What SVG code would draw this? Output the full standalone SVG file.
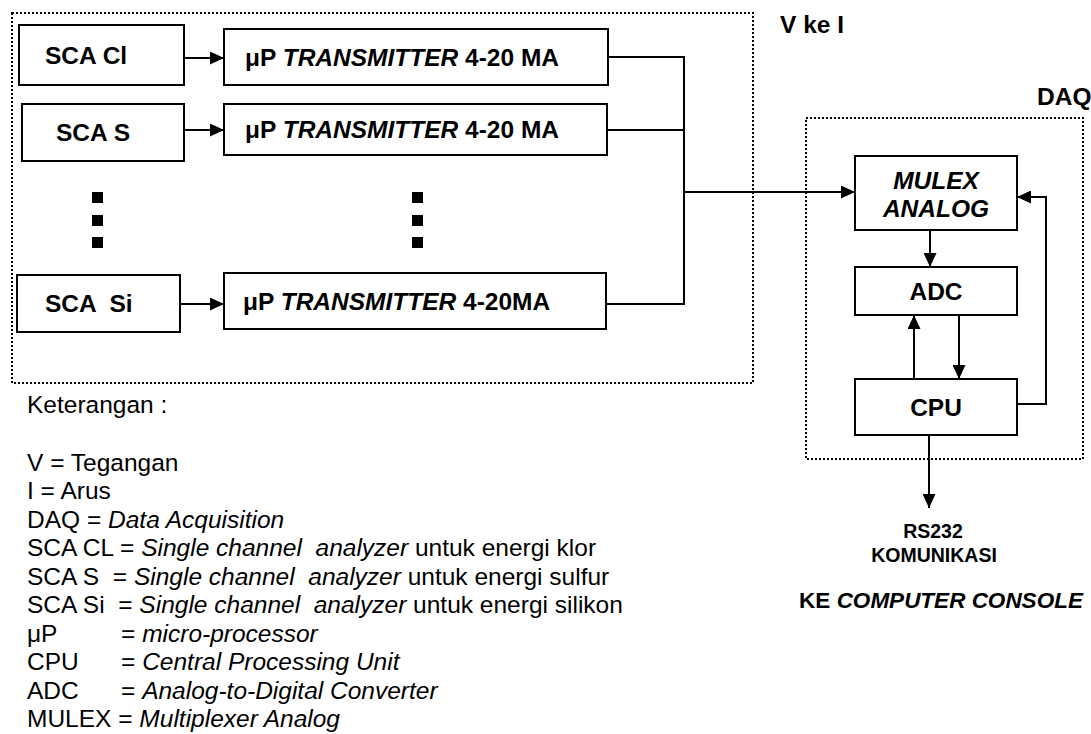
<svg xmlns="http://www.w3.org/2000/svg" width="1091" height="734" viewBox="0 0 1091 734">
<defs>
<style>
.box{fill:#fff;stroke:#000;stroke-width:2}
.dot{fill:none;stroke:#000;stroke-width:2;stroke-dasharray:2 2}
.ln{fill:none;stroke:#000;stroke-width:2}
.t{font-family:"Liberation Sans",Arial,sans-serif;font-size:24.5px;fill:#000}
.b{font-weight:bold}
.i{font-style:italic}
.lg{font-family:"Liberation Sans",Arial,sans-serif;font-size:24.5px;fill:#000;white-space:pre}
.sq{fill:#000}
</style>
<marker id="ah" viewBox="0 0 14 13" refX="14" refY="6.5" markerWidth="14" markerHeight="13" markerUnits="userSpaceOnUse" orient="auto"><path d="M0,0 L14,6.5 L0,13 z" fill="#000"/></marker>
</defs>
<rect width="1091" height="734" fill="#fff"/>

<g id="group-v-ke-i">
<rect class="dot" x="12" y="13" width="741" height="370"/>
<text class="t b" x="780" y="33">V ke I</text>
</g>
<g id="group-daq">
<rect class="dot" x="806" y="118" width="277" height="341"/>
<text class="t b" x="1037" y="105">DAQ</text>
</g>

<g id="connectors">
<line class="ln" x1="184" y1="58" x2="224" y2="58" marker-end="url(#ah)"/>
<line class="ln" x1="184" y1="130" x2="224" y2="130" marker-end="url(#ah)"/>
<line class="ln" x1="180" y1="304" x2="224" y2="304" marker-end="url(#ah)"/>
<polyline class="ln" points="608,57 684,57 684,304 606,304"/>
<line class="ln" x1="607" y1="130" x2="684" y2="130"/>
<line class="ln" x1="684" y1="192" x2="855" y2="192" marker-end="url(#ah)"/>
<line class="ln" x1="930" y1="230" x2="930" y2="267" marker-end="url(#ah)"/>
<line class="ln" x1="914" y1="379" x2="914" y2="315" marker-end="url(#ah)"/>
<line class="ln" x1="959" y1="315" x2="959" y2="379" marker-end="url(#ah)"/>
<polyline class="ln" points="1017,404 1046,404 1046,197 1017,197" marker-end="url(#ah)"/>
<line class="ln" x1="929" y1="435" x2="929" y2="508" marker-end="url(#ah)"/>
</g>

<g id="sca-cl"><rect class="box" x="19" y="25" width="165" height="60"/><text class="t b" x="45" y="64">SCA Cl</text></g>
<g id="sca-s"><rect class="box" x="22" y="104" width="162" height="57"/><text class="t b" x="56" y="141">SCA S</text></g>
<g id="sca-si"><rect class="box" x="17" y="275" width="163" height="57"/><text class="t b" x="45" y="312" style="white-space:pre">SCA  Si</text></g>

<g id="tx-cl"><rect class="box" x="224" y="29" width="384" height="56"/><text class="t b" x="245" y="66">μP <tspan class="i">TRANSMITTER</tspan> 4-20 MA</text></g>
<g id="tx-s"><rect class="box" x="224" y="104" width="383" height="51"/><text class="t b" x="245" y="138">μP <tspan class="i">TRANSMITTER</tspan> 4-20 MA</text></g>
<g id="tx-si"><rect class="box" x="224" y="273" width="382" height="56"/><text class="t b" x="243" y="310">μP <tspan class="i">TRANSMITTER</tspan> 4-20MA</text></g>

<g id="ellipsis-left"><rect class="sq" x="92" y="192" width="11" height="11"/><rect class="sq" x="92" y="215" width="11" height="11"/><rect class="sq" x="92" y="237" width="11" height="11"/></g>
<g id="ellipsis-right"><rect class="sq" x="412" y="192" width="11" height="11"/><rect class="sq" x="412" y="215" width="11" height="11"/><rect class="sq" x="412" y="237" width="11" height="11"/></g>

<g id="mulex"><rect class="box" x="855" y="156" width="162" height="74"/><text class="t b i" x="936" y="189" text-anchor="middle">MULEX</text><text class="t b i" x="936" y="217" text-anchor="middle">ANALOG</text></g>
<g id="adc"><rect class="box" x="855" y="267" width="162" height="48"/><text class="t b" x="936" y="300" text-anchor="middle">ADC</text></g>
<g id="cpu"><rect class="box" x="855" y="379" width="162" height="56"/><text class="t b" x="936" y="416" text-anchor="middle">CPU</text></g>

<g id="output-labels">
<text class="t b" x="933" y="538" text-anchor="middle" style="font-size:19.5px">RS232</text>
<text class="t b" x="934" y="562" text-anchor="middle" style="font-size:19.5px">KOMUNIKASI</text>
<text class="t b" x="941" y="608" text-anchor="middle" style="font-size:22.5px">KE <tspan class="i">COMPUTER CONSOLE</tspan></text>
</g>

<g id="legend">
<text class="lg" x="27" y="413">Keterangan :</text>
<text class="lg" x="27" y="470.5">V = Tegangan</text>
<text class="lg" x="27" y="499">I = Arus</text>
<text class="lg" x="27" y="527.5">DAQ = <tspan font-style="italic">Data Acquisition</tspan></text>
<text class="lg" x="27" y="556">SCA CL = <tspan font-style="italic">Single channel  analyzer</tspan> untuk energi klor</text>
<text class="lg" x="27" y="584.5">SCA S  = <tspan font-style="italic">Single channel  analyzer</tspan> untuk energi sulfur</text>
<text class="lg" x="27" y="613">SCA Si  = <tspan font-style="italic">Single channel  analyzer</tspan> untuk energi silikon</text>
<text class="lg" x="27" y="641.5">μP<tspan x="121">= </tspan><tspan font-style="italic">micro-processor</tspan></text>
<text class="lg" x="27" y="670">CPU<tspan x="121">= </tspan><tspan font-style="italic">Central Processing Unit</tspan></text>
<text class="lg" x="27" y="698.5">ADC<tspan x="121">= </tspan><tspan font-style="italic">Analog-to-Digital Converter</tspan></text>
<text class="lg" x="27" y="727">MULEX = <tspan font-style="italic">Multiplexer Analog</tspan></text>
</g>
</svg>
